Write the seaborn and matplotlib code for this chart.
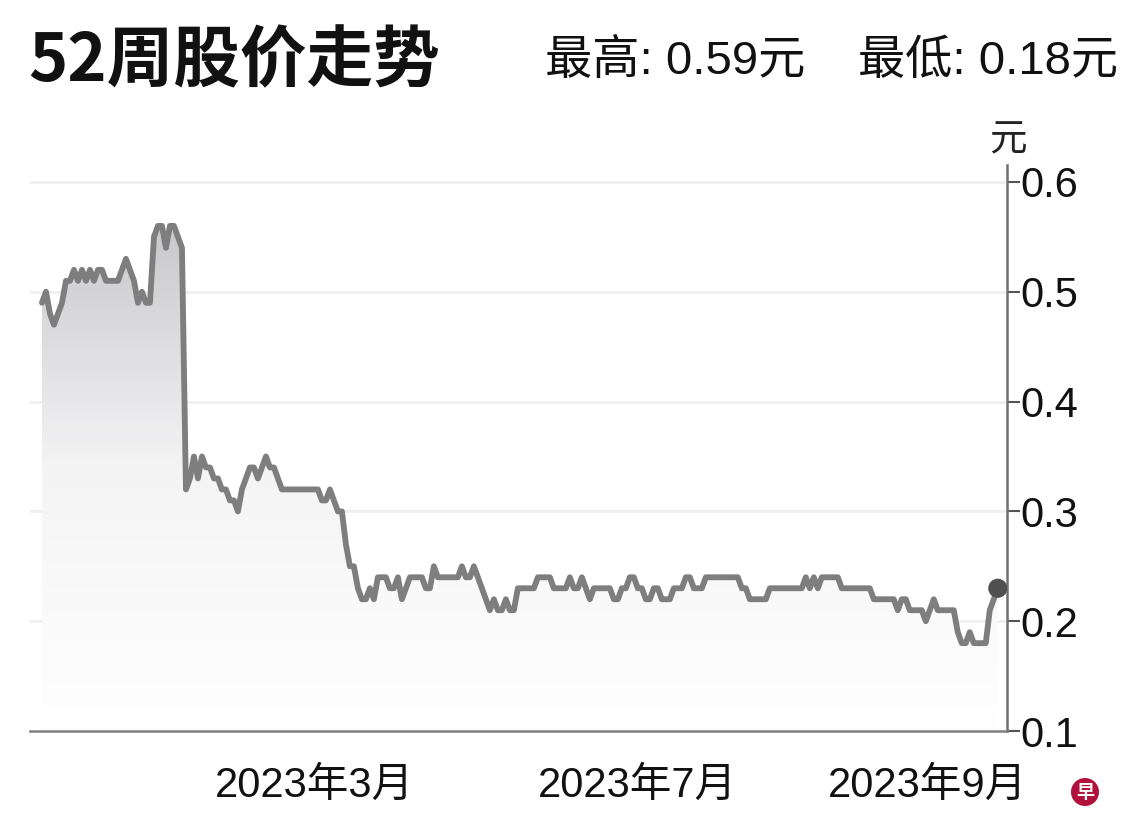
import numpy as np
import pandas as pd
import matplotlib
matplotlib.use("Agg")
import matplotlib.pyplot as plt
import matplotlib.transforms as mtransforms
from matplotlib.colors import LinearSegmentedColormap
import seaborn as sns

# Datos (precio diario, en 元)
precio = [
    0.49, 0.50, 0.48, 0.47, 0.48, 0.49, 0.51, 0.51, 0.52, 0.51,
    0.52, 0.51, 0.52, 0.51, 0.52, 0.52, 0.51, 0.51, 0.51, 0.51,
    0.52, 0.53, 0.52, 0.51, 0.49, 0.50, 0.49, 0.49, 0.55, 0.56,
    0.56, 0.54, 0.56, 0.56, 0.55, 0.54, 0.32, 0.33, 0.35, 0.33,
    0.35, 0.34, 0.34, 0.33, 0.33, 0.32, 0.32, 0.31, 0.31, 0.30,
    0.32, 0.33, 0.34, 0.34, 0.33, 0.34, 0.35, 0.34, 0.34, 0.33,
    0.32, 0.32, 0.32, 0.32, 0.32, 0.32, 0.32, 0.32, 0.32, 0.32,
    0.31, 0.31, 0.32, 0.31, 0.30, 0.30, 0.27, 0.25, 0.25, 0.23,
    0.22, 0.22, 0.23, 0.22, 0.24, 0.24, 0.24, 0.23, 0.23, 0.24,
    0.22, 0.23, 0.24, 0.24, 0.24, 0.24, 0.23, 0.23, 0.25, 0.24,
    0.24, 0.24, 0.24, 0.24, 0.24, 0.25, 0.24, 0.24, 0.25, 0.24,
    0.23, 0.22, 0.21, 0.22, 0.21, 0.21, 0.22, 0.21, 0.21, 0.23,
    0.23, 0.23, 0.23, 0.23, 0.24, 0.24, 0.24, 0.24, 0.23, 0.23,
    0.23, 0.23, 0.24, 0.23, 0.23, 0.24, 0.23, 0.22, 0.23, 0.23,
    0.23, 0.23, 0.23, 0.22, 0.22, 0.23, 0.23, 0.24, 0.24, 0.23,
    0.23, 0.22, 0.22, 0.23, 0.23, 0.22, 0.22, 0.22, 0.23, 0.23,
    0.23, 0.24, 0.24, 0.23, 0.23, 0.23, 0.24, 0.24, 0.24, 0.24,
    0.24, 0.24, 0.24, 0.24, 0.24, 0.23, 0.23, 0.22, 0.22, 0.22,
    0.22, 0.22, 0.23, 0.23, 0.23, 0.23, 0.23, 0.23, 0.23, 0.23,
    0.23, 0.24, 0.23, 0.24, 0.23, 0.24, 0.24, 0.24, 0.24, 0.24,
    0.23, 0.23, 0.23, 0.23, 0.23, 0.23, 0.23, 0.23, 0.22, 0.22,
    0.22, 0.22, 0.22, 0.22, 0.21, 0.22, 0.22, 0.21, 0.21, 0.21,
    0.21, 0.20, 0.21, 0.22, 0.21, 0.21, 0.21, 0.21, 0.21, 0.19,
    0.18, 0.18, 0.19, 0.18, 0.18, 0.18, 0.18, 0.21, 0.22, 0.23,
]
dias = list(range(len(precio)))

ticks_x = [75, 155, 237]
etiquetas_x = ["2023年3月", "2023年7月", "2023年9月"]
ticks_y = [0.1, 0.2, 0.3, 0.4, 0.5, 0.6]

titulo = "52周股价走势"
subtitulo = "最高: 0.59元    最低: 0.18元"
unidad = "元"

sns.set_style("white")
fuente = ["Liberation Sans", "Noto Sans CJK SC"]
plt.rcParams["font.family"] = fuente

df = pd.DataFrame({"dia": dias, "precio": precio})

fig = plt.figure(figsize=(11.4, 8.22), dpi=100)
ax = fig.add_axes([0.0263, 0.1107, 0.857, 0.6886])

x_min, x_max = -3, 241.3
y_min, y_max = 0.1, 0.6155

# Relleno con degradado bajo la línea
relleno = ax.fill_between(df["dia"], df["precio"], y_min, color="none", lw=0)
cmap = LinearSegmentedColormap.from_list("gris", ["#ffffff", "#f4f4f5", "#c4c4c8"])
grad = np.linspace(0, 1, 256).reshape(-1, 1)
im = ax.imshow(grad, extent=[x_min, x_max, y_min, 0.58], origin="lower",
               aspect="auto", cmap=cmap, zorder=1)
im.set_clip_path(relleno.get_paths()[0], transform=ax.transData)

for v in ticks_y[1:]:
    ax.axhline(v, color="#efefef", lw=2, zorder=0)

sns.lineplot(data=df, x="dia", y="precio", ax=ax, color="#7e7e7e", lw=4.2, zorder=3)
sns.scatterplot(x=[dias[-1]], y=[precio[-1]], ax=ax, color="#505050", s=190,
                edgecolor="none", zorder=4)

ax.set_xlim(x_min, x_max)
ax.set_ylim(y_min, y_max)
ax.set_xlabel("")
ax.set_ylabel("")

ax.yaxis.tick_right()
ax.set_yticks(ticks_y)
ax.set_yticklabels([f"{v:.1f}" for v in ticks_y])
ax.set_xticks(ticks_x)
ax.set_xticklabels(etiquetas_x)

for s in ["top", "left"]:
    ax.spines[s].set_visible(False)
ax.spines["right"].set_color("#707070")
ax.spines["right"].set_linewidth(1.8)
ax.spines["bottom"].set_color("#808080")
ax.spines["bottom"].set_linewidth(1.8)

ax.tick_params(axis="y", which="both", right=True, left=False, length=9, width=1.5,
               color="#555555", labelsize=30, pad=1, labelcolor="#111111")
ax.tick_params(axis="x", length=15, width=1.2, color="#222222",
               labelsize=30, pad=10, labelcolor="#111111")

# las etiquetas del eje x están desplazadas a la izquierda en el original
desplaz = [-27, -24, -62]
for lab, dx in zip(ax.get_xticklabels(), desplaz):
    lab.set_transform(lab.get_transform() + mtransforms.ScaledTranslation(dx / 100, 0, fig.dpi_scale_trans))

# Textos
fig.text(28 / 1140, 1 - 62 / 822, titulo, fontsize=48, fontweight="bold",
         family=["Noto Sans CJK SC"], va="center", ha="left", color="#111111")
fig.text(1118 / 1140, 1 - 62 / 822, subtitulo, fontsize=34, va="center",
         ha="right", color="#111111")
fig.text(1008 / 1140, 1 - 140 / 822, unidad, fontsize=27, va="center",
         ha="center", color="#222222", family=["Noto Sans CJK SC"])
fig.text(1085 / 1140, 1 - 792 / 822, "早", fontsize=13, color="white",
         ha="center", va="center", family=["Noto Sans CJK SC"], fontweight="bold",
         bbox=dict(boxstyle="circle,pad=0.25", fc="#b0123c", ec="none"))

plt.savefig("out.png", dpi=100)
